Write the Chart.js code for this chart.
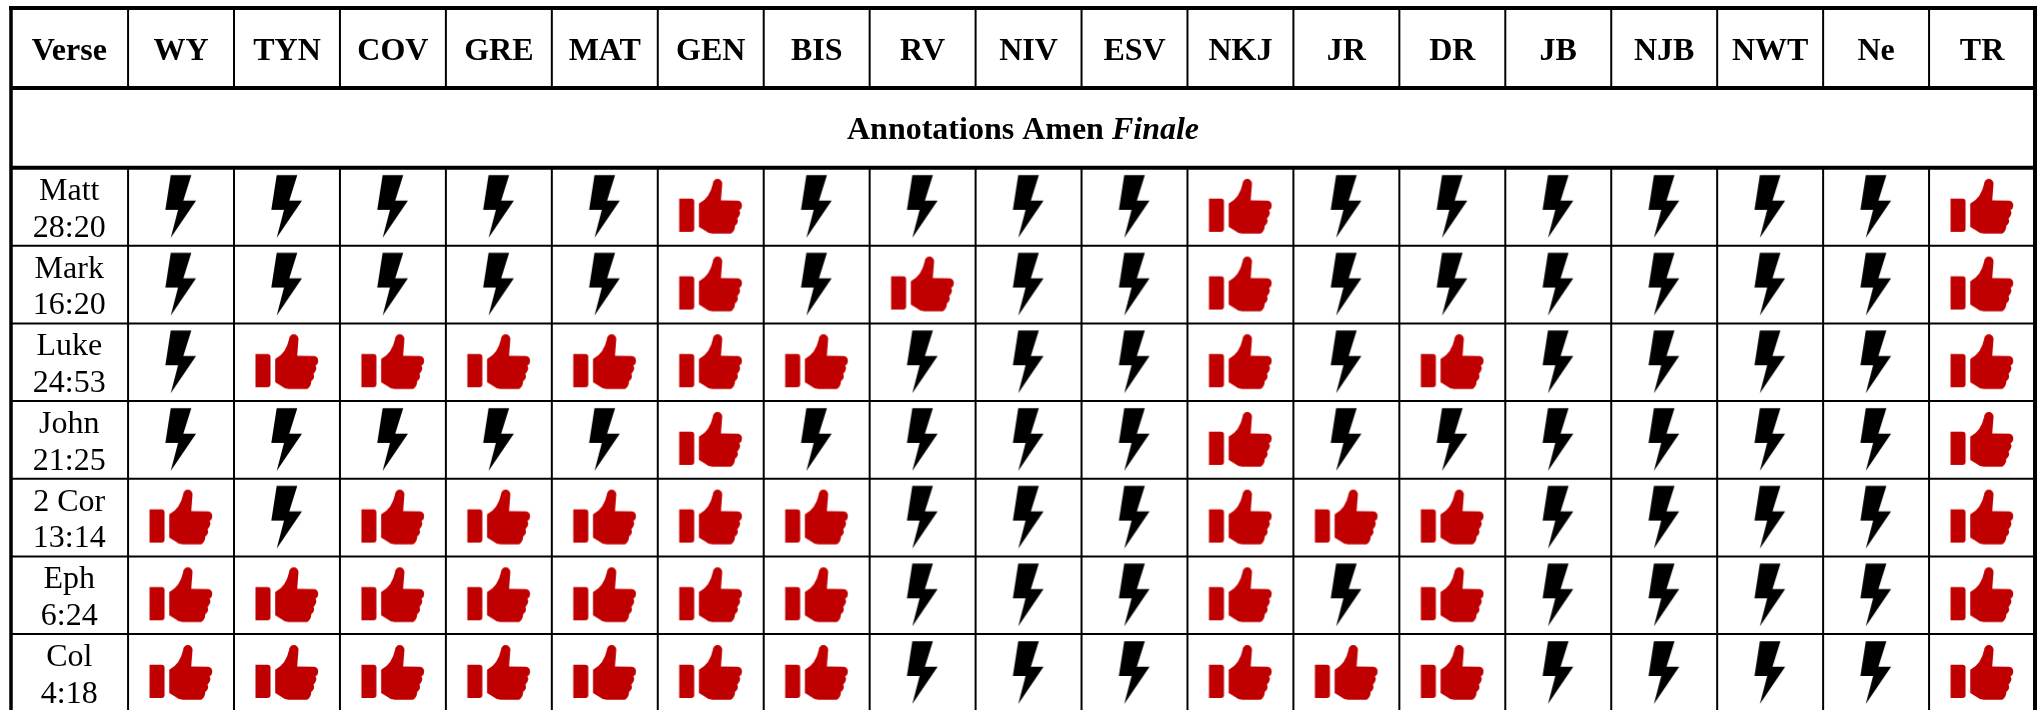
<!DOCTYPE html>
<html>
<head>
<meta charset="utf-8">
<title>Annotations Amen Finale</title>
<script src="https://cdn.jsdelivr.net/npm/chart.js@4/dist/chart.umd.js"></script>
<style>
  html, body { margin: 0; padding: 0; background: #fff; overflow: hidden; }
  canvas { display: block; }
</style>
</head>
<body>
<canvas id="myChart" width="2040" height="710"></canvas>
<script>
// table contents
const versions = ['WY','TYN','COV','GRE','MAT','GEN','BIS','RV','NIV','ESV','NKJ','JR','DR','JB','NJB','NWT','Ne','TR']
const verses = [['Matt','28:20'],['Mark','16:20'],['Luke','24:53'],['John','21:25'],['2 Cor','13:14'],['Eph','6:24'],['Col','4:18']]

// 1 = has the amen (thumb), 0 = missing (bolt), same order as versions
const matt = [0,0,0,0,0,1,0,0,0,0,1,0,0,0,0,0,0,1]
const mark = [0,0,0,0,0,1,0,1,0,0,1,0,0,0,0,0,0,1]
const luke = [0,1,1,1,1,1,1,0,0,0,1,0,1,0,0,0,0,1]
const john = [0,0,0,0,0,1,0,0,0,0,1,0,0,0,0,0,0,1]
const cor2 = [1,0,1,1,1,1,1,0,0,0,1,1,1,0,0,0,0,1]
const eph  = [1,1,1,1,1,1,1,0,0,0,1,0,1,0,0,0,0,1]
const col  = [1,1,1,1,1,1,1,0,0,0,1,1,1,0,0,0,0,1]
const rows = [matt, mark, luke, john, cor2, eph, col]

const headerLabel = 'Verse'
const titleBold = 'Annotations Amen '
const titleItalic = 'Finale'

const RED = '#c00000'
const FONT = '"Liberation Serif", "Times New Roman", serif'

// icons used as point styles, coordinates measured from the cell centre
const makeIcon = (draw) => {
    const c = document.createElement('canvas')
    c.width = 72
    c.height = 72
    const g = c.getContext('2d')
    g.translate(36, 36)
    draw(g)
    return c
}

const bolt = makeIcon(g => {
    g.fillStyle = '#000'
    g.beginPath()
    g.moveTo(-10.3, -31.7)
    g.lineTo(10.3, -31.7)
    g.lineTo(2.3, -6.3)
    g.lineTo(15, -6.3)
    g.lineTo(-10.3, 31)
    g.lineTo(-3, 3)
    g.lineTo(-15.7, 3)
    g.closePath()
    g.fill()
})

const thumb = makeIcon(g => {
    g.fillStyle = RED
    // cuff
    g.beginPath()
    g.roundRect(-31.5, -8.3, 15, 33.3, [0, 3, 3, 0])
    g.fill()
    // hand
    g.beginPath()
    g.moveTo(-11.8, -3.3)
    g.quadraticCurveTo(-0.8, -9, 2.1, -23.3)
    g.arc(6.8, -23.3, 4.7, Math.PI, 0)
    g.lineTo(10.2, -6.4)
    g.lineTo(27, -6.2)
    g.quadraticCurveTo(31.5, -5.5, 31.2, -0.7)
    g.quadraticCurveTo(31, 2.5, 28.5, 3.3)
    g.quadraticCurveTo(31, 7, 26.5, 11.7)
    g.quadraticCurveTo(28.5, 15.5, 24.2, 19)
    g.quadraticCurveTo(24.5, 24, 20.2, 26.7)
    g.lineTo(1.8, 26.7)
    g.quadraticCurveTo(-3, 26.5, -6.5, 23.3)
    g.lineTo(-11.8, 20)
    g.closePath()
    g.fill()
})

// split the grid into the two kinds of mark
const pointsFor = (flag) => {
    const out = []
    rows.forEach((row, y) => row.forEach((v, x) => { if (v === flag) out.push({ x, y }) }))
    return out
}

// table lines and all the text
const tablePlugin = {
    id: 'table',
    beforeDatasetsDraw(chart) {
        const { ctx, scales: { x, y } } = chart
        const px = v => x.getPixelForValue(v)
        const py = v => y.getPixelForValue(v)
        const line = (x1, y1, x2, y2, w) => {
            ctx.lineWidth = w
            ctx.beginPath()
            ctx.moveTo(x1, y1)
            ctx.lineTo(x2, y2)
            ctx.stroke()
        }
        const left = px(-1.605), right = px(17.5)
        const top = py(-2.56), headBottom = py(-1.53), titleBottom = py(-0.505)

        ctx.save()
        ctx.strokeStyle = '#000'
        // column lines, broken across the title row
        versions.forEach((v, i) => {
            line(px(i - 0.5), top, px(i - 0.5), headBottom, 2)
            line(px(i - 0.5), titleBottom, px(i - 0.5), chart.height, 2)
        })
        // row lines
        verses.forEach((v, i) => { if (i) line(left, py(i - 0.5), right, py(i - 0.5), 2) })
        line(left, headBottom, right, headBottom, 4)
        line(left, titleBottom, right, titleBottom, 4)
        // outer frame
        line(left - 2, top, right + 2, top, 4)
        line(left, top, left, chart.height, 3.5)
        line(right, top, right, chart.height, 4)

        ctx.fillStyle = '#000'
        ctx.textBaseline = 'alphabetic'
        ctx.textAlign = 'center'

        // header row
        const headY = py(-2) + 8
        ctx.font = 'bold 32px ' + FONT
        ctx.fillText(headerLabel, px(-1.055), headY)
        versions.forEach((v, i) => ctx.fillText(v, px(i), headY))

        // title row, two runs centred together
        ctx.textAlign = 'left'
        const w1 = ctx.measureText(titleBold).width
        ctx.font = 'italic bold 32px ' + FONT
        const w2 = ctx.measureText(titleItalic).width
        const startX = (left + right - w1 - w2) / 2
        const titleY = py(-1) + 10
        ctx.font = 'bold 32px ' + FONT
        ctx.fillText(titleBold, startX, titleY)
        ctx.font = 'italic bold 32px ' + FONT
        ctx.fillText(titleItalic, startX + w1, titleY)

        // verse names
        ctx.textAlign = 'center'
        ctx.font = '32px ' + FONT
        verses.forEach((v, i) => {
            ctx.fillText(v[0], px(-1.055), py(i) - 7)
            ctx.fillText(v[1], px(-1.055), py(i) + 29.7)
        })
        ctx.restore()
    }
}

new Chart(document.getElementById('myChart'), {
    type: 'scatter',
    data: {
        datasets: [
            { data: pointsFor(0), pointStyle: bolt },
            { data: pointsFor(1), pointStyle: thumb },
        ]
    },
    options: {
        responsive: false,
        animation: false,
        events: [],
        layout: { autoPadding: false, padding: { left: 11, right: 5, top: 8, bottom: 0 } },
        scales: {
            x: { type: 'linear', display: false, min: -1.605, max: 17.5 },
            y: { type: 'linear', display: false, reverse: true, min: -2.56, max: 6.477 },
        },
        plugins: { legend: { display: false }, tooltip: { enabled: false } },
    },
    plugins: [tablePlugin]
})
</script>
</body>
</html>
